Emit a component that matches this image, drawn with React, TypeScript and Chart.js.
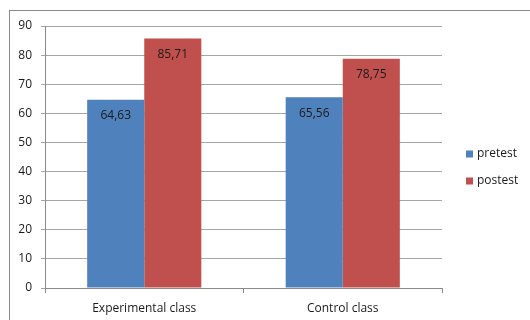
import React, { useEffect, useRef } from "react";
import { Chart, registerables } from "chart.js";

Chart.register(...registerables);

const categories = ["Experimental class", "Control class"];
const seriesNames = ["pretest", "postest"];
const pretestValues = [64.63, 65.56];
const postestValues = [85.71, 78.75];
const yTicks = [0, 10, 20, 30, 40, 50, 60, 70, 80, 90];

const FONT = "'Open Sans', 'DejaVu Sans', sans-serif";
const TEXT = "#1a1a1a";

const framePlugin = {
  id: "frame",
  beforeDraw(chart: any) {
    const ctx = chart.ctx;
    ctx.save();
    ctx.fillStyle = "#ffffff";
    ctx.fillRect(0, 0, chart.width, chart.height);
    ctx.strokeStyle = "#8a8a8a";
    ctx.lineWidth = 1;
    ctx.strokeRect(9.5, 10.5, chart.width + 50, chart.height + 50);
    ctx.restore();
  },
};

const labelsPlugin = {
  id: "barLabels",
  afterDatasetsDraw(chart: any) {
    const ctx = chart.ctx;
    ctx.save();
    ctx.font = `12px ${FONT}`;
    ctx.fillStyle = TEXT;
    ctx.textAlign = "center";
    ctx.textBaseline = "middle";
    chart.data.datasets.forEach((ds: any, i: number) => {
      const meta = chart.getDatasetMeta(i);
      meta.data.forEach((bar: any, j: number) => {
        const v = ds.data[j] as number;
        const txt = v.toFixed(2).replace(".", ",");
        ctx.fillText(txt, bar.x, bar.y + 16);
      });
    });
    ctx.restore();
  },
};

const legendPlugin = {
  id: "customLegend",
  afterDraw(chart: any) {
    const ctx = chart.ctx;
    const area = chart.chartArea;
    ctx.save();
    ctx.font = `12px ${FONT}`;
    ctx.textBaseline = "middle";
    ctx.textAlign = "left";
    chart.data.datasets.forEach((ds: any, i: number) => {
      const cy = 154 + i * 27;
      const x = area.right + 24;
      ctx.fillStyle = ds.backgroundColor;
      ctx.fillRect(x, cy - 3.5, 7, 7);
      ctx.fillStyle = TEXT;
      ctx.fillText(ds.label, x + 11, cy);
    });
    ctx.restore();
  },
};

export default function App() {
  const ref = useRef<HTMLCanvasElement | null>(null);

  useEffect(() => {
    if (!ref.current) return;
    const chart = new Chart(ref.current, {
      type: "bar",
      data: {
        labels: categories,
        datasets: [
          {
            label: seriesNames[0],
            data: pretestValues,
            backgroundColor: "#4f81bd",
            barPercentage: 1,
            categoryPercentage: 0.575,
          },
          {
            label: seriesNames[1],
            data: postestValues,
            backgroundColor: "#c0504d",
            barPercentage: 1,
            categoryPercentage: 0.575,
          },
        ],
      },
      options: {
        animation: false,
        responsive: false,
        maintainAspectRatio: false,
        layout: { padding: { top: 26, right: 88, left: 0, bottom: 0 } },
        plugins: {
          legend: { display: false },
          tooltip: { enabled: false },
          title: { display: false },
        },
        scales: {
          x: {
            offset: true,
            grid: {
              offset: true,
              drawOnChartArea: false,
              drawTicks: true,
              tickLength: 5,
              color: "#8a8a8a",
            },
            border: { display: true, color: "#8a8a8a" },
            ticks: {
              color: TEXT,
              font: { family: FONT, size: 12 },
              padding: 8,
              maxRotation: 0,
            },
            afterFit(scale: any) {
              scale.height = 32;
            },
          },
          y: {
            min: 0,
            max: 90,
            afterBuildTicks(scale: any) {
              scale.ticks = yTicks.map((v) => ({ value: v }));
            },
            grid: {
              color: "#a6a6a6",
              drawTicks: true,
              tickLength: 4,
            },
            border: { display: true, color: "#8a8a8a" },
            ticks: {
              color: TEXT,
              font: { family: FONT, size: 12 },
              padding: 9,
            },
            afterFit(scale: any) {
              scale.width = 45;
            },
          },
        },
      },
      plugins: [framePlugin, labelsPlugin, legendPlugin],
    });
    return () => chart.destroy();
  }, []);

  return (
    <div style={{ position: "absolute", left: 0, top: 0, width: 530, height: 320, background: "#fff" }}>
      <canvas ref={ref} width={530} height={320} style={{ display: "block" }} />
    </div>
  );
}
